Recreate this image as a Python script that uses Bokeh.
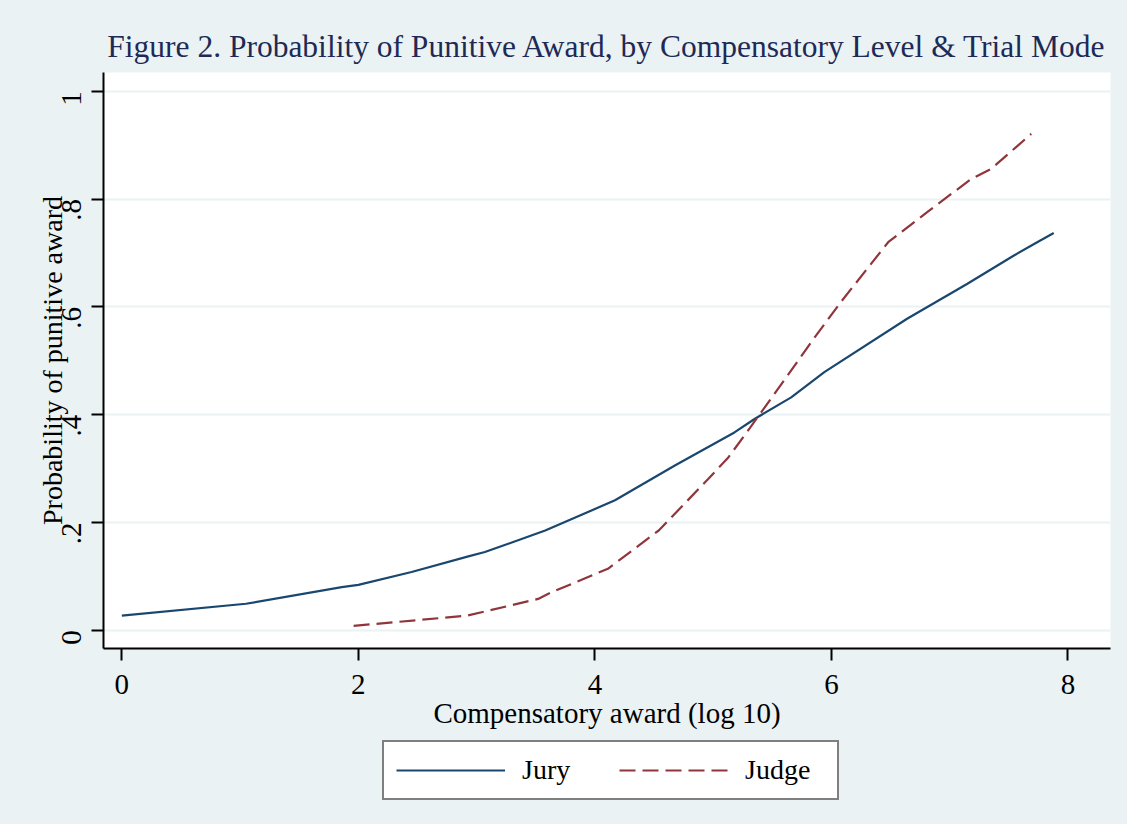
import math
from bokeh.plotting import figure
from bokeh.layouts import column
from bokeh.models import Legend, LegendItem, Title, Range1d, FixedTicker
from bokeh.embed import file_html
from bokeh.resources import INLINE

# ---- data ----
jury_x = [0.0, 1.05, 1.86, 2.0, 2.45, 2.93, 3.07, 3.58, 4.17, 4.68, 5.18, 5.35, 5.66, 5.94, 6.64, 7.15, 7.54, 7.74, 7.88]
jury_y = [0.027, 0.049, 0.080, 0.084, 0.108, 0.137, 0.145, 0.185, 0.241, 0.306, 0.367, 0.392, 0.432, 0.479, 0.578, 0.643, 0.695, 0.720, 0.737]

judge_x = [1.96, 2.92, 3.52, 3.63, 4.11, 4.54, 4.96, 5.13, 5.31, 5.66, 5.86, 6.08, 6.48, 6.81, 7.18, 7.35, 7.69]
judge_y = [0.008, 0.027, 0.058, 0.070, 0.114, 0.185, 0.281, 0.321, 0.375, 0.482, 0.544, 0.609, 0.720, 0.776, 0.837, 0.856, 0.921]

x_ticks = [0, 2, 4, 6, 8]
y_ticks = [0, 0.2, 0.4, 0.6, 0.8, 1.0]
y_tick_labels = ["0", ".2", ".4", ".6", ".8", "1"]

title_text = "Figure 2. Probability of Punitive Award, by Compensatory Level & Trial Mode"
x_label = "Compensatory award (log 10)"
y_label = "Probability of punitive award"
series_names = ["Jury", "Judge"]

FONT = "Liberation Serif"
BG = "#EAF2F3"
JURY_C = "#1A476F"
JUDGE_C = "#90353B"
JURY_STYLE = dict(line_color=JURY_C, line_width=2.2)
JUDGE_STYLE = dict(line_color=JUDGE_C, line_width=2.2, line_dash="16 7")

W = 1127
p = figure(width=W, height=738, output_backend="svg", toolbar_location=None,
           x_range=Range1d(-0.155, 8.36), y_range=Range1d(-0.034, 1.035),
           min_border_left=103, min_border_right=17, min_border_top=72, min_border_bottom=90)
p.title = None
p.border_fill_color = BG
p.background_fill_color = "white"
p.outline_line_color = None

t = Title(text=title_text, text_font=FONT, text_font_size="31.5px", text_font_style="normal",
          text_color="#1E2A55", align="center", standoff=18)
p.add_layout(t, "above")

for ax in (p.xaxis[0], p.yaxis[0]):
    ax.axis_line_color = "black"
    ax.axis_line_width = 2
    ax.major_tick_line_color = "black"
    ax.major_tick_line_width = 2
    ax.major_tick_in = 0
    ax.major_tick_out = 12
    ax.minor_tick_line_color = None
    ax.major_label_text_font = FONT
    ax.major_label_text_font_size = "29px"
    ax.major_label_text_color = "black"
    ax.axis_label_text_font = FONT
    ax.axis_label_text_font_size = "29px"
    ax.axis_label_text_font_style = "normal"
    ax.axis_label_text_color = "black"

p.xaxis.ticker = FixedTicker(ticks=x_ticks)
p.xaxis.axis_label = x_label
p.xaxis.major_label_standoff = 14
p.xaxis.axis_label_standoff = 0

p.yaxis.ticker = FixedTicker(ticks=y_ticks)
p.yaxis.major_label_overrides = {v: s for v, s in zip(y_ticks, y_tick_labels)}
p.yaxis.major_label_orientation = math.pi / 2
p.yaxis.axis_label = y_label
p.yaxis.axis_label_text_font_size = "28px"
p.yaxis.major_label_standoff = 20
p.yaxis.axis_label_standoff = -18

p.xgrid.grid_line_color = None
p.ygrid.grid_line_color = BG
p.ygrid.grid_line_width = 2

p.line(jury_x, jury_y, **JURY_STYLE)
p.line(judge_x, judge_y, **JUDGE_STYLE)

# ---- legend strip (lines drawn out of view; only the legend shows) ----
q = figure(width=W, height=86, output_backend="svg", toolbar_location=None,
           x_range=Range1d(100, 101), y_range=Range1d(100, 101),
           x_axis_location=None, y_axis_location=None,
           min_border=0, min_border_left=0, min_border_right=0, min_border_top=0, min_border_bottom=0)
q.title = None
q.border_fill_color = BG
q.background_fill_color = BG
q.outline_line_color = None
q.xgrid.grid_line_color = None
q.ygrid.grid_line_color = None
l1 = q.line(jury_x, jury_y, **JURY_STYLE)
l2 = q.line(judge_x, judge_y, **JUDGE_STYLE)

legend = Legend(items=[LegendItem(label=series_names[0], renderers=[l1]),
                       LegendItem(label=series_names[1], renderers=[l2])],
                orientation="horizontal", location=(279, 24),
                glyph_width=109, glyph_height=32, label_height=32, label_width=80,
                label_standoff=17, spacing=17, padding=12, margin=0,
                label_text_font=FONT, label_text_font_size="28px", label_text_color="black",
                border_line_color="black", border_line_width=2,
                background_fill_color="white", background_fill_alpha=1.0)
q.add_layout(legend, "center")

layout = column(p, q, spacing=0, styles={"background-color": BG})
open("out.html", "w").write(file_html(layout, INLINE))
